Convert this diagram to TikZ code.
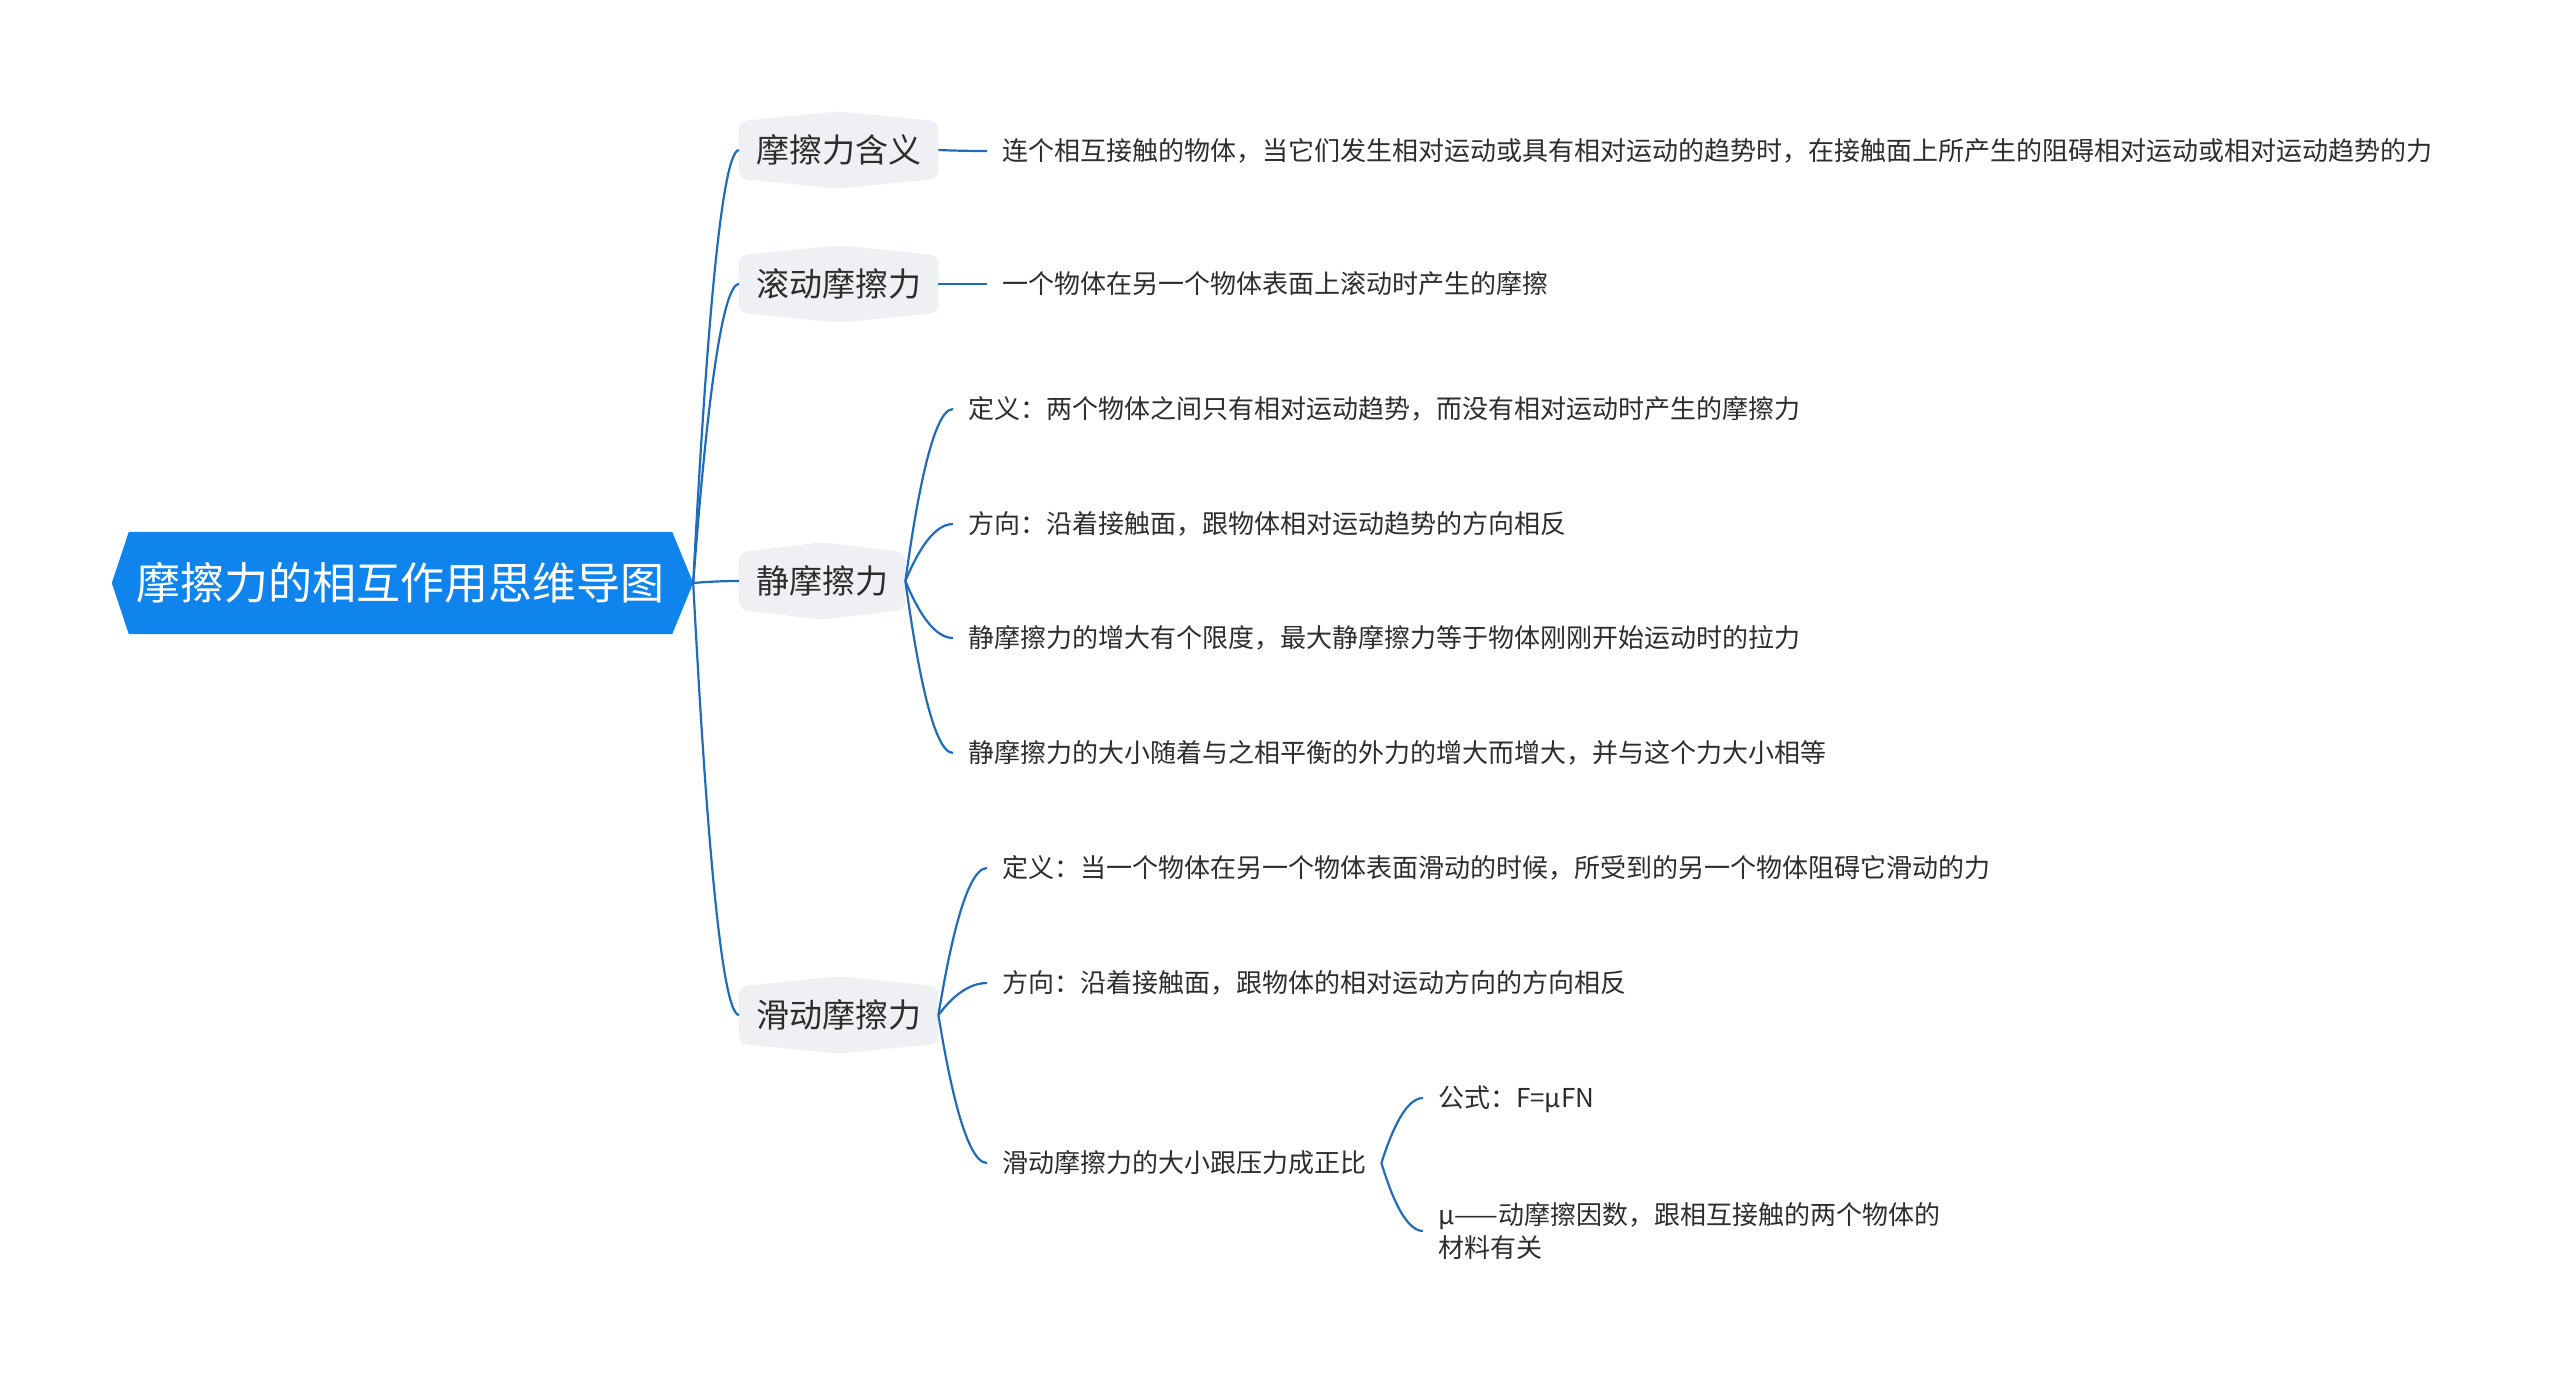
\documentclass[tikz,border=0pt]{standalone}
\usepackage{fontspec}
\setmainfont{Noto Sans CJK SC}
\usetikzlibrary{calc,backgrounds}
\definecolor{lineblue}{RGB}{30,108,186}
\definecolor{rootblue}{RGB}{14,132,236}
\definecolor{topicgray}{RGB}{238,240,243}
\definecolor{textdark}{RGB}{45,45,45}
\tikzset{
  conn/.style={draw=lineblue, line width=2.2pt,
    to path={let \p1=(\tikztostart), \p2=(\tikztotarget) in
      .. controls ($(\p1)+({0.17*(\x2-\x1)},{0.34*(\y2-\y1)})$)
      and ($(\p2)+({-0.47*(\x2-\x1)},0)$) .. (\tikztotarget)}},
  rootnode/.style={inner sep=0pt, minimum width=543pt, minimum height=102pt,
    text=white, font=\fontsize{44}{52}\selectfont, text height=38.7pt, text depth=5.3pt},
  topic/.style={anchor=west, inner xsep=17pt, inner ysep=0pt, minimum height=57pt,
    text=textdark, font=\fontsize{33}{40}\selectfont, text height=29pt, text depth=4pt},
  leaf/.style={anchor=west, inner xsep=15pt, inner ysep=0pt,
    text=textdark, font=\fontsize{26}{33}\selectfont, text height=22.9pt, text depth=3.1pt},
  leafml/.style={anchor=west, inner xsep=15pt, inner ysep=0pt, align=left,
    text=textdark, font=\fontsize{26}{33}\selectfont}
}
\newcommand\topicbg[1]{\fill[topicgray, rounded corners=8pt]
  (#1.north west) -- ($(#1.north)+(0,-10)$) -- (#1.north east) -- (#1.south east)
  -- ($(#1.south)+(0,10)$) -- (#1.south west) -- cycle;}
\begin{document}
\begin{tikzpicture}[x=1pt,y=-1pt]
\useasboundingbox (0,0) rectangle (2560,1387);
% root
\node[rootnode] (root) at (400.5,583) {摩擦力的相互作用思维导图};
\coordinate (rtip) at ($(root.east)+(21,0)$);
\coordinate (ltip) at ($(root.west)+(-17,0)$);
% level 1
\node[topic] (n1) at (739,150) {摩擦力含义};
\node[topic] (n2) at (739,284) {滚动摩擦力};
\node[topic] (n3) at (739,581) {静摩擦力};
\node[topic] (n4) at (739,1015) {滑动摩擦力};
% leaves
\node[leaf] (a1) at (987,151) {连个相互接触的物体，当它们发生相对运动或具有相对运动的趋势时，在接触面上所产生的阻碍相对运动或相对运动趋势的力};
\node[leaf] (a2) at (987,284) {一个物体在另一个物体表面上滚动时产生的摩擦};
\node[leaf] (s1) at (953,409) {定义：两个物体之间只有相对运动趋势，而没有相对运动时产生的摩擦力};
\node[leaf] (s2) at (953,524) {方向：沿着接触面，跟物体相对运动趋势的方向相反};
\node[leaf] (s3) at (953,638) {静摩擦力的增大有个限度，最大静摩擦力等于物体刚刚开始运动时的拉力};
\node[leaf] (s4) at (953,753) {静摩擦力的大小随着与之相平衡的外力的增大而增大，并与这个力大小相等};
\node[leaf] (h1) at (987,868) {定义：当一个物体在另一个物体表面滑动的时候，所受到的另一个物体阻碍它滑动的力};
\node[leaf] (h2) at (987,983) {方向：沿着接触面，跟物体的相对运动方向的方向相反};
\node[leaf] (h3) at (987,1163) {滑动摩擦力的大小跟压力成正比};
\node[leaf] (f1) at (1423,1098) {公式：F=μFN};
\node[leafml] (f2) at (1423,1231) {μ——动摩擦因数，跟相互接触的两个物体的\\材料有关};
% backgrounds
\begin{scope}[on background layer]
  \fill[rootblue] (root.north west) -- (root.north east) -- (rtip) -- (root.south east)
    -- (root.south west) -- (ltip) -- cycle;
  \topicbg{n1}
  \topicbg{n2}
  \topicbg{n3}
  \topicbg{n4}
\end{scope}
% connectors
\draw[conn] (rtip) to (n1.west);
\draw[conn] (rtip) to (n2.west);
\draw[conn] (rtip) to (n3.west);
\draw[conn] (rtip) to (n4.west);
\draw[conn] (n1.east) to (a1.west);
\draw[conn] (n2.east) to (a2.west);
\draw[conn] (n3.east) to (s1.west);
\draw[conn] (n3.east) to (s2.west);
\draw[conn] (n3.east) to (s3.west);
\draw[conn] (n3.east) to (s4.west);
\draw[conn] (n4.east) to (h1.west);
\draw[conn] (n4.east) to (h2.west);
\draw[conn] (n4.east) to (h3.west);
\draw[conn] (h3.east) to (f1.west);
\draw[conn] (h3.east) to (f2.west);
\end{tikzpicture}
\end{document}
